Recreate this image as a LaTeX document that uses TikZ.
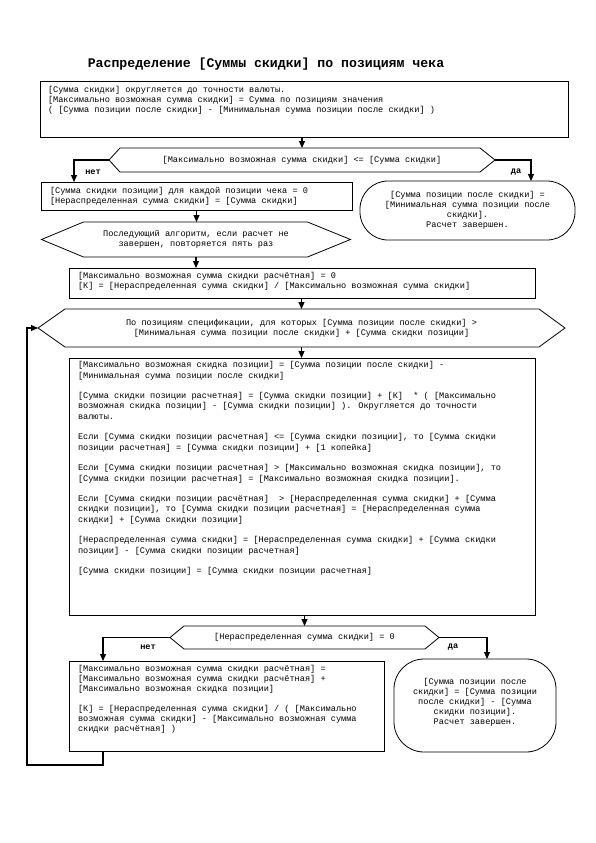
\documentclass[tikz,border=0pt]{standalone}
\usepackage{fontspec}
\setmainfont{Liberation Mono}
\usetikzlibrary{arrows.meta}
\newcommand{\hexdraw}[3]{%
  \draw[hexline] (#1.west) -- ([xshift=#2]#1.north west) -- ([xshift=-#3]#1.north east)
    -- (#1.east) -- ([xshift=-#3]#1.south east) -- ([xshift=#2]#1.south west) -- cycle;}
\newcommand{\nl}{\\{}}
\newcommand{\bl}[1]{\\[#1]{}\ignorespaces}
\begin{document}
\begin{tikzpicture}[x=1pt,y=-1pt,
  every node/.style={inner sep=0pt, outer sep=0pt},
  txt/.style={font=\fontsize{8.6}{10}\selectfont, align=left, anchor=north west},
  ctxt/.style={font=\fontsize{8.6}{10}\selectfont, align=center},
  rectbox/.style={draw, line width=0.8pt},
  termbox/.style={draw, line width=0.8pt, rounded corners=28pt},
  hexbox/.style={font=\fontsize{8.6}{10}\selectfont, align=center},
  hexline/.style={line width=0.8pt},
  arr/.style={line width=1.1pt, -{Triangle[length=7pt,width=6pt]}},
  lbl/.style={font=\fontsize{8.6}{10}\selectfont\bfseries},
  ttl/.style={font=\fontsize{13.2}{15}\selectfont\bfseries}]
\useasboundingbox (0,0) rectangle (596,843);

% title
\node[ttl] (title) at (266,64) {Распределение [Суммы скидки] по позициям чека};

% box 1
\node[rectbox, minimum width=528pt, minimum height=56pt] (b1) at (304,109) {};
\node[txt] (b1t) at (48,86) {[Сумма скидки] округляется до точности валюты.\nl
[Максимально возможная сумма скидки] = Сумма по позициям значения\nl
( [Сумма позиции после скидки] - [Минимальная сумма позиции после скидки] )};

% decision 1
\node[hexbox, minimum width=386pt, minimum height=24pt] (d1) at (302,160)
  {[Максимально возможная сумма скидки] <= [Сумма скидки]};
\hexdraw{d1}{11pt}{15pt}

% box 2
\node[rectbox, minimum width=311pt, minimum height=28pt] (b2) at (196.5,196) {};
\node[txt] (b2t) at (50,187) {[Сумма скидки позиции] для каждой позиции чека = 0\nl
[Нераспределенная сумма скидки] = [Сумма скидки]};

% terminal 1
\node[termbox, minimum width=215pt, minimum height=59pt] (t1) at (467.5,210.5) {};
\node[ctxt] (t1t) at (467.5,210.5) {[Сумма позиции после скидки] =\nl
[Минимальная сумма позиции после\nl скидки].\nl Расчет завершен.};

% decision 2
\node[hexbox, minimum width=309pt, minimum height=35pt] (d2) at (196,239.5)
  {Последующий алгоритм, если расчет не\nl завершен, повторяется пять раз};
\hexdraw{d2}{42pt}{43pt}

% box 3
\node[rectbox, minimum width=466pt, minimum height=30pt] (b3) at (302,283) {};
\node[txt] (b3t) at (78,272) {[Максимально возможная сумма скидки расчётная] = 0\nl
[К] = [Нераспределенная сумма скидки] / [Максимально возможная сумма скидки]};

% decision 3
\node[hexbox, minimum width=527pt, minimum height=38pt] (d3) at (301.5,328)
  {По позициям спецификации, для которых [Сумма позиции после скидки] >\nl
  [Минимальная сумма позиции после скидки] + [Сумма скидки позиции]};
\hexdraw{d3}{27pt}{26pt}

% box 4
\node[rectbox, minimum width=466pt, minimum height=257pt] (b4) at (302,486.5) {};
\node[txt, font=\fontsize{8.6}{10.3}\selectfont] (b4t) at (78,361.5) {[Максимально возможная скидка позиции] = [Сумма позиции после скидки] -\nl
[Минимальная сумма позиции после скидки]\bl{10.3pt}
[Сумма скидки позиции расчетная] = [Сумма скидки позиции] + [К]\ \ * ( [Максимально\nl
возможная скидка позиции] - [Сумма скидки позиции] ). Округляется до точности\nl
валюты.\bl{10.3pt}
Если [Сумма скидки позиции расчетная] <= [Сумма скидки позиции], то [Сумма скидки\nl
позиции расчетная] = [Сумма скидки позиции] + [1 копейка]\bl{10.3pt}
Если [Сумма скидки позиции расчетная] > [Максимально возможная скидка позиции], то\nl
[Сумма скидки позиции расчетная] = [Максимально возможная скидка позиции].\bl{10.3pt}
Если [Сумма скидки позиции расчётная]\ \ > [Нераспределенная сумма скидки] + [Сумма\nl
скидки позиции], то [Сумма скидки позиции расчетная] = [Нераспределенная сумма\nl
скидки] + [Сумма скидки позиции]\bl{10.3pt}
[Нераспределенная сумма скидки] = [Нераспределенная сумма скидки] + [Сумма скидки\nl
позиции] - [Сумма скидки позиции расчетная]\bl{10.3pt}
[Сумма скидки позиции] = [Сумма скидки позиции расчетная]};

% decision 4
\node[hexbox, minimum width=269pt, minimum height=23pt] (d4) at (304.5,637.5)
  {[Нераспределенная сумма скидки] = 0};
\hexdraw{d4}{14pt}{14pt}

% box 5
\node[rectbox, minimum width=315pt, minimum height=90pt] (b5) at (226.5,706) {};
\node[txt] (b5t) at (78,665) {[Максимально возможная сумма скидки расчётная] =\nl
[Максимально возможная сумма скидки расчётная] +\nl
[Максимально возможная скидка позиции]\bl{10pt}
[К] = [Нераспределенная сумма скидки] / ( [Максимально\nl
возможная сумма скидки] - [Максимально возможная сумма\nl
скидки расчётная] )};

% terminal 2
\node[termbox, rounded corners=30pt, minimum width=162pt, minimum height=93pt] (t2) at (475,705.5) {};
\node[ctxt] (t2t) at (475,702.5) {[Сумма позиции после\nl скидки] = [Сумма позиции\nl
после скидки] - [Сумма\nl скидки позиции].\nl Расчет завершен.};

% branch labels
\node[lbl] (l1) at (93,172) {нет};
\node[lbl] (l2) at (516,172) {да};
\node[lbl] (l3) at (148,647) {нет};
\node[lbl] (l4) at (453,647) {да};

% connectors
\draw[arr] (b1.south -| d1.north) -- (d1.north);
\draw[arr] (d1.west) -| ([xshift=33pt]b2.north west);
\draw[arr] (d1.east) -| ([xshift=63.5pt]t1.north);
\draw[arr] (b2.south) -- (b2.south |- d2.north);
\draw[arr] (d2.south) -- (d2.south |- b3.north);
\draw[arr] (b3.south -| d3.north) -- (d3.north);
\draw[arr] (d3.south) -- (d3.south |- b4.north);
\draw[arr] (b4.south -| d4.north) -- (d4.north);
\draw[arr] (d4.west) -| ([xshift=34pt]b5.north west);
\draw[arr] (d4.east) -| ([xshift=12pt]t2.north);
\coordinate (loop) at (27,765);
\draw[arr] ([xshift=34pt]b5.south west) |- (loop) |- (d3.west);
\end{tikzpicture}
\end{document}
